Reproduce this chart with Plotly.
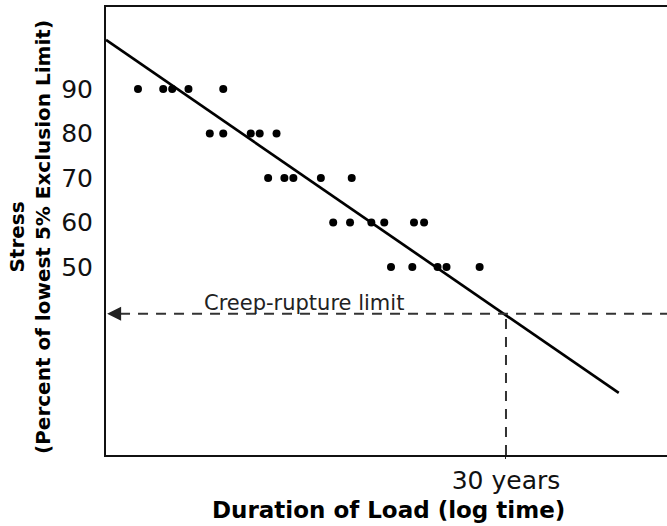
import plotly.graph_objects as go

# Data (x: log-time in arbitrary units 0-100, y: stress %)
row90_x = [5.7, 10.2, 11.8, 14.7, 20.9]
row80_x = [18.5, 20.9, 25.8, 27.4, 30.4]
row70_x = [28.9, 31.8, 33.4, 38.3, 43.8]
row60_x = [40.5, 43.5, 47.3, 49.6, 54.9, 56.7]
row50_x = [50.8, 54.6, 59.1, 60.7, 66.6]
point_x = row90_x + row80_x + row70_x + row60_x + row50_x
point_y = ([90] * len(row90_x) + [80] * len(row80_x) + [70] * len(row70_x)
           + [60] * len(row60_x) + [50] * len(row50_x))

trend_x = [0, 91.4]
trend_y = [101.0, 21.7]

creep_limit = 39.5
thirty_years_x = 71.3

y_ticks = [50, 60, 70, 80, 90]
x_tick_vals = [thirty_years_x]
x_tick_text = ["30 years"]

FONT = "DejaVu Sans"
x_range = [0, 100]
y_range = [7.75, 108.4]

fig = go.Figure()
fig.add_trace(go.Scatter(x=trend_x, y=trend_y, mode="lines",
                         line=dict(color="black", width=2.7), hoverinfo="skip"))
fig.add_trace(go.Scatter(x=point_x, y=point_y, mode="markers",
                         marker=dict(color="black", size=8)))

dash = dict(color="#333333", width=2, dash="10px,8px")
fig.add_shape(type="line", xref="x", yref="y", x0=x_range[0] + 2.5, x1=x_range[1],
              y0=creep_limit, y1=creep_limit, line=dash)
fig.add_shape(type="line", xref="x", yref="y", x0=thirty_years_x, x1=thirty_years_x,
              y0=y_range[0], y1=creep_limit, line=dash)

# arrow head at the left end of the creep-rupture line
fig.add_annotation(x=x_range[0] + 0.2, y=creep_limit, ax=x_range[0] + 2.6, ay=creep_limit,
                   xref="x", yref="y", axref="x", ayref="y", text="", showarrow=True,
                   arrowhead=2, arrowsize=1.4, arrowwidth=2, arrowcolor="#222222")

fig.add_annotation(x=35.3, y=creep_limit, xref="x", yref="y", text="Creep-rupture limit",
                   showarrow=False, yanchor="bottom", xanchor="center", yshift=-3,
                   font=dict(family=FONT, size=21, color="#222222"))

fig.add_annotation(x=-0.1355, y=0.4866, xref="paper", yref="paper",
                   text="<b>Stress</b><br><b>(Percent of lowest 5% Exclusion Limit)</b>",
                   textangle=-90, showarrow=False, xanchor="center", yanchor="middle",
                   font=dict(family=FONT, size=20, color="black"))

fig.add_annotation(x=0.5027, y=-0.1228, xref="paper", yref="paper",
                   text="<b>Duration of Load (log time)</b>", showarrow=False,
                   xanchor="center", yanchor="middle",
                   font=dict(family=FONT, size=23, color="black"))

fig.update_layout(
    width=667, height=526,
    margin=dict(l=106, r=0, t=7, b=71),
    paper_bgcolor="white", plot_bgcolor="white",
    showlegend=False,
    xaxis=dict(range=x_range, showgrid=False, zeroline=False, showline=True,
               linecolor="#111111", linewidth=2, mirror=True,
               tickvals=x_tick_vals, ticktext=x_tick_text, ticks="outside",
               ticklen=2, tickcolor="#222222",
               tickfont=dict(family=FONT, size=25, color="#111111")),
    yaxis=dict(range=y_range, showgrid=False, zeroline=False, showline=True,
               linecolor="#111111", linewidth=2,
               tickvals=y_ticks, ticks="outside", ticklen=6,
               tickcolor="rgba(0,0,0,0)",
               tickfont=dict(family=FONT, size=25, color="#111111")),
)

fig.write_html("out.html", config={"displayModeBar": False},
               post_script="document.body.style.margin='0';document.body.style.overflow='hidden';")
